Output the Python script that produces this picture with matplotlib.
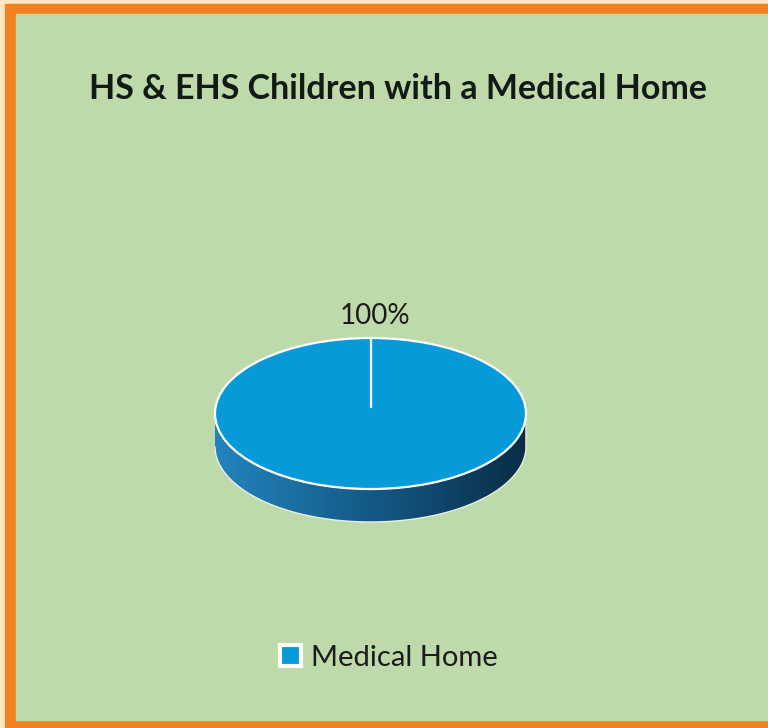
import numpy as np
import matplotlib
matplotlib.use("Agg")
import matplotlib.pyplot as plt
from matplotlib.patches import Rectangle, PathPatch
from matplotlib.path import Path
from matplotlib.colors import LinearSegmentedColormap

plt.rcParams['font.family'] = ['Lato', 'DejaVu Sans']

# Data
title = "HS & EHS Children with a Medical Home"
labels = ["Medical Home"]
values = [100]

top_color = "#069ad8"
side_cmap = LinearSegmentedColormap.from_list("side", ["#2384bd", "#135a87", "#0a2d45"])

W, H = 768, 728
fig = plt.figure(figsize=(W / 100, H / 100), dpi=100)

# background frame in pixel coords
bg = fig.add_axes([0, 0, 1, 1])
bg.set_xlim(0, W)
bg.set_ylim(H, 0)
bg.axis('off')
bg.add_patch(Rectangle((0, 0), W, H, color="#fde7c6"))
bg.add_patch(Rectangle((5, 4), W - 5, H - 4, color="#f08222"))
bg.add_patch(Rectangle((16, 14), W - 16, 720 - 14, color="#bedaab"))

fig.text(398 / W, 1 - 99 / H, title, ha='center', va='baseline',
         fontsize=24.5, fontweight='bold', color='#111a14')

# pie axes (flattened to look like a 3D disc)
depth = 0.437
ax = fig.add_axes([215 / W, 1 - 522 / H, 311 / W, (522 - 338) / H])
wedges, _ = ax.pie(values, startangle=90, counterclock=False, radius=1,
                   colors=[top_color],
                   wedgeprops=dict(edgecolor='white', linewidth=1.6))
for w in wedges:
    w.set_clip_on(False)
    w.set_zorder(3)
ax.set_aspect('auto')
ax.axis('off')

# side of the disc
th = np.linspace(np.pi, 2 * np.pi, 200)
xs = np.concatenate([np.cos(th), np.cos(th[::-1])])
ys = np.concatenate([np.sin(th), np.sin(th[::-1]) - depth])
side_path = Path(np.column_stack([xs, ys]))
side = PathPatch(side_path, facecolor='none', edgecolor='#e6efe6', linewidth=1.0,
                 zorder=2, clip_on=False)
ax.add_patch(side)
grad = np.linspace(0, 1, 256).reshape(1, -1)
im = ax.imshow(grad, cmap=side_cmap, extent=(-1, 1, -1 - depth, 0.2),
               aspect='auto', zorder=1)
im.set_clip_path(side)

# radial edge at the start angle
ang = np.deg2rad(90)
ax.plot([0, np.cos(ang)], [0.086, np.sin(ang)], color='white', lw=1.6, zorder=4,
        clip_on=False)

pct = values[0] / sum(values) * 100
ax.text(0.03, 1.185, f"{pct:.0f}%", ha='center', va='baseline', fontsize=20,
        color='#1c1c1c', clip_on=False)

ax.set_ylim(-1 - depth, 1)
ax.set_xlim(-1, 1)

leg = fig.legend(wedges, labels, loc='center', bbox_to_anchor=(389 / W, 1 - 658 / H),
                 frameon=False, fontsize=21, handlelength=0.72, handleheight=0.72,
                 handletextpad=0.35)
for h in leg.legend_handles:
    h.set_edgecolor('white')
    h.set_linewidth(3)
for t in leg.get_texts():
    t.set_color('#1c1c1c')

fig.savefig("out.png", dpi=100)
